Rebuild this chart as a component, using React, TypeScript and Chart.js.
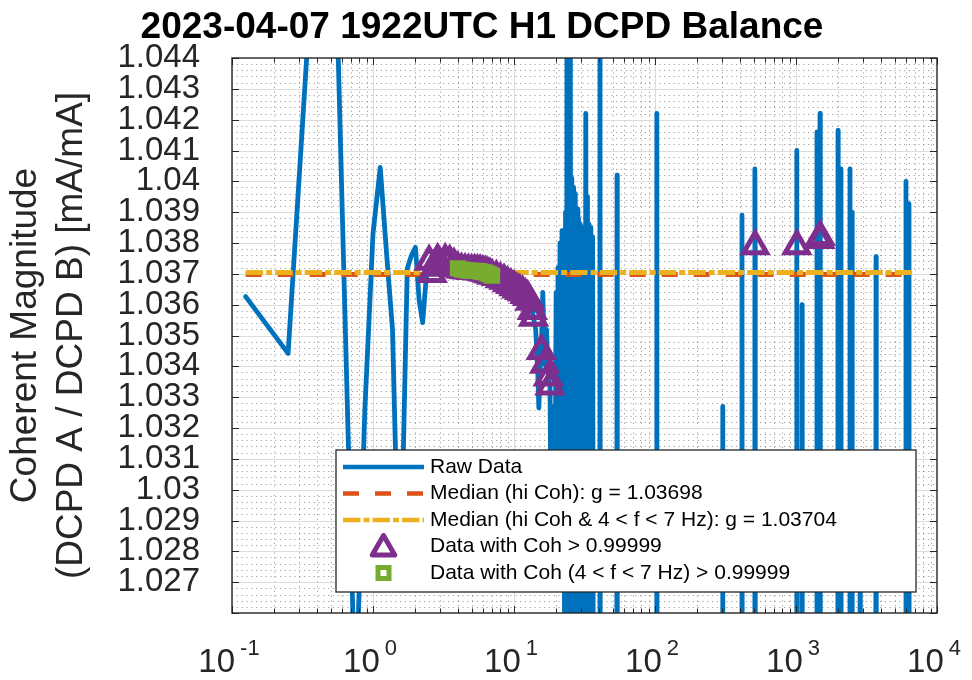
import React, { useEffect, useRef } from 'react';
import { Chart, registerables } from 'chart.js';

Chart.register(...registerables);

const FONT = "'Liberation Sans', Arial, Helvetica, sans-serif";
const BLUE = '#0072BD';
const ORANGE = '#D95319';
const YELLOW = '#EDB120';
const PURPLE = '#7E2F8E';
const GREEN = '#77AC30';
const AXIS = '#262626';

const TITLE = '2023-04-07 1922UTC H1 DCPD Balance';
const Y_TITLE = ['Coherent Magnitude', '(DCPD A / DCPD B) [mA/mA]'];
const X_DECADES = [-1, 0, 1, 2, 3, 4];
const MINOR_DECADES = [-1, 0, 1, 2, 3];
const MINOR_MULTS = [2, 3, 4, 5, 6, 7, 8, 9];
const Y_MIN = 1.026;
const Y_MAX = 1.044;
const Y_STEP = 0.001;
const Y_MINOR = 0.0002;
const X_MIN = 0.1;
const X_MAX = 10000;

// Raw data, low-frequency part (Hz, mA/mA)
const lowFreq = [
  0.125, 0.25, 0.375, 0.5, 0.625, 0.75, 0.875, 1.0, 1.125, 1.25, 1.375, 1.5, 1.625, 1.75, 1.875,
  2.0, 2.125, 2.25, 2.375, 2.5, 2.625, 2.75, 2.875, 3.0, 3.25, 3.5, 3.75, 4.0, 4.25, 4.5, 4.75,
  5.0, 5.25, 5.5, 5.75, 6.0, 6.25, 6.5, 6.75, 7.0, 7.5, 8.0, 8.5, 9.0, 9.5, 10.0, 10.5, 11.0,
  11.5, 12.0, 12.5, 13.0, 13.5, 13.75, 14.25, 14.75, 15.0, 15.375, 15.625, 16.0, 16.5, 17.0,
  17.5, 18.0,
];
const lowVal = [
  1.03626, 1.03442, 1.04725, 1.0536, 1.03659, 1.02287, 1.03256, 1.0383, 1.04045, 1.03762, 1.0352,
  1.02819, 1.0303, 1.03717, 1.0376, 1.03786, 1.03614, 1.03542, 1.03678, 1.0374, 1.037, 1.0372,
  1.03745, 1.0373, 1.03745, 1.0374, 1.0373, 1.03718, 1.03714, 1.03712, 1.03711, 1.0371, 1.0371,
  1.03709, 1.03708, 1.03706, 1.03704, 1.03701, 1.03698, 1.03694, 1.0369, 1.03683, 1.03678,
  1.0367, 1.03664, 1.03657, 1.0365, 1.03645, 1.0364, 1.03632, 1.03625, 1.0361, 1.0358, 1.03558,
  1.0352, 1.0338, 1.03265, 1.034, 1.0345, 1.0364, 1.03406, 1.0352, 1.03364, 1.03335,
];

// Raw data, dense noisy band (18 - 37 Hz)
const bandFreq = [
  18.3, 18.6, 18.9, 19.2, 19.5, 19.9, 20.2, 20.5, 20.8, 21.2, 21.5, 21.9, 22.2, 22.6, 22.9, 23.2,
  23.5, 23.8, 24.1, 24.4, 24.7, 25.0, 25.4, 25.7, 26.1, 26.5, 26.9, 27.2, 27.6, 28.0, 28.4, 28.7,
  29.1, 29.6, 30.0, 30.4, 30.9, 31.4, 31.8, 32.3, 32.7, 33.2, 33.7, 34.1, 34.6, 35.1, 35.6, 36.1,
  36.6,
];
const bandVal = [
  1.029, 1.0327, 1.0285, 1.0318, 1.0282, 1.0364, 1.0283, 1.0372, 1.0281, 1.038, 1.028, 1.0384,
  1.0278, 1.0384, 1.02, 1.039, 1.02, 1.052, 1.02, 1.052, 1.02, 1.052, 1.02, 1.0401, 1.02, 1.0398,
  1.02, 1.0396, 1.02, 1.0391, 1.02, 1.0388, 1.02, 1.0386, 1.02, 1.0384, 1.02, 1.0385, 1.02,
  1.0422, 1.02, 1.0395, 1.02, 1.0386, 1.02, 1.0385, 1.02, 1.0382, 1.02,
];

// Raw data, high-frequency part (mostly off-scale low, with isolated spikes)
const highFreq = [
  40.5, 40.7, 40.9, 53.6, 53.8, 54.0, 102.6, 103, 103.4, 301, 302, 303, 412.5, 414, 415.5, 510,
  511, 512.5, 514, 1008, 1011, 1013, 1016, 1099, 1103, 1107, 1404, 1409, 1414, 1470, 1476, 1480,
  1484, 1490, 1980, 1986, 1992, 2078, 2085, 2092, 2407, 2415, 2423, 2488, 2496, 2504, 2840, 2850,
  2860, 3680, 3694, 3708, 6005, 6026, 6047, 6307, 6329, 6351, 7000,
];
const highVal = [
  1.02, 1.052, 1.02, 1.02, 1.0402, 1.02, 1.02, 1.0422, 1.02, 1.02, 1.0327, 1.02, 1.02, 1.0389,
  1.02, 1.02, 1.0404, 1.0379, 1.02, 1.02, 1.041, 1.0379, 1.02, 1.02, 1.036, 1.02, 1.02, 1.0416,
  1.02, 1.02, 1.0381, 1.0422, 1.0382, 1.02, 1.02, 1.04165, 1.02, 1.02, 1.0404, 1.02, 1.02, 1.0404,
  1.02, 1.02, 1.039, 1.02, 1.02, 1.029, 1.02, 1.02, 1.03756, 1.02, 1.02, 1.04, 1.02, 1.02, 1.03928,
  1.02, 1.02,
];

// Data with Coh > 0.99999
const triFreq = [
  2.5, 2.625, 2.75, 2.875, 3.0, 3.25, 3.5, 3.75, 4.0, 4.25, 4.5, 4.75, 5.0, 5.25, 5.5, 5.75, 6.0,
  6.25, 6.5, 6.75, 7.0, 7.5, 8.0, 8.5, 9.0, 9.5, 10.0, 10.5, 11.0, 11.5, 12.0, 12.5, 13.0, 13.5,
  13.75, 15.625, 16.5, 17.5, 18.0, 512.5, 1013, 1476, 1484,
];
const triVal = [
  1.0374, 1.037, 1.0372, 1.03745, 1.0373, 1.03745, 1.0374, 1.0373, 1.03718, 1.03714, 1.03712,
  1.03711, 1.0371, 1.0371, 1.03709, 1.03708, 1.03706, 1.03704, 1.03701, 1.03698, 1.03694, 1.0369,
  1.03683, 1.03678, 1.0367, 1.03664, 1.03657, 1.0365, 1.03645, 1.0364, 1.03632, 1.03625, 1.0361,
  1.0358, 1.03558, 1.0345, 1.03406, 1.03364, 1.03335, 1.0379, 1.0379, 1.0381, 1.0382,
];

// Data with Coh (4 < f < 7 Hz) > 0.99999
const sqFreq = [4.0, 4.25, 4.5, 4.75, 5.0, 5.25, 5.5, 5.75, 6.0, 6.25, 6.5, 6.75, 7.0];
const sqVal = [
  1.03718, 1.03714, 1.03712, 1.03711, 1.0371, 1.0371, 1.03709, 1.03708, 1.03706, 1.03704, 1.03701,
  1.03698, 1.03694,
];

const MEDIAN_HI_COH = 1.03698;
const MEDIAN_BAND = 1.03704;
const MEDIAN_SPAN = [0.125, 7000];

const LEGEND_LABELS = [
  'Raw Data',
  'Median (hi Coh): g = 1.03698',
  'Median (hi Coh & 4 < f < 7 Hz): g = 1.03704',
  'Data with Coh > 0.99999',
  'Data with Coh (4 < f < 7 Hz) > 0.99999',
];

const toPts = (fs: number[], vs: number[]) => fs.map((f, i) => ({ x: f, y: vs[i] }));

const ORANGE_DASH = [16, 16];
const YELLOW_DASH = [17.5, 3, 6, 3];

function drawTriangle(ctx: any, x: number, y: number, r: number) {
  ctx.beginPath();
  ctx.moveTo(x, y - r);
  ctx.lineTo(x + Math.sin((2 * Math.PI) / 3) * r, y - Math.cos((2 * Math.PI) / 3) * r);
  ctx.lineTo(x + Math.sin((4 * Math.PI) / 3) * r, y - Math.cos((4 * Math.PI) / 3) * r);
  ctx.closePath();
  ctx.stroke();
}

const decoPlugin = {
  id: 'deco',
  beforeDatasetsDraw(chart: any) {
    const { ctx, chartArea: a, scales } = chart;
    const xs = scales.x;
    const ys = scales.y;
    ctx.save();
    ctx.beginPath();
    ctx.rect(a.left, a.top, a.right - a.left, a.bottom - a.top);
    ctx.clip();
    ctx.lineWidth = 1;
    // minor dotted grid
    ctx.strokeStyle = 'rgba(50,50,50,0.45)';
    ctx.setLineDash([1.2, 3.6]);
    const nMinor = Math.round((Y_MAX - Y_MIN) / Y_MINOR);
    for (let i = 1; i < nMinor; i++) {
      if (i % 5 === 0) continue;
      const py = Math.round(ys.getPixelForValue(Y_MIN + i * Y_MINOR)) + 0.5;
      ctx.beginPath();
      ctx.moveTo(a.left, py);
      ctx.lineTo(a.right, py);
      ctx.stroke();
    }
    for (const d of MINOR_DECADES) {
      for (const k of MINOR_MULTS) {
        const px = Math.round(xs.getPixelForValue(k * Math.pow(10, d))) + 0.5;
        ctx.beginPath();
        ctx.moveTo(px, a.top);
        ctx.lineTo(px, a.bottom);
        ctx.stroke();
      }
    }
    // major solid grid
    ctx.setLineDash([]);
    ctx.strokeStyle = '#DCDCDC';
    const nMajor = Math.round((Y_MAX - Y_MIN) / Y_STEP);
    for (let i = 1; i < nMajor; i++) {
      const py = Math.round(ys.getPixelForValue(Y_MIN + i * Y_STEP)) + 0.5;
      ctx.beginPath();
      ctx.moveTo(a.left, py);
      ctx.lineTo(a.right, py);
      ctx.stroke();
    }
    for (const d of X_DECADES) {
      const px = Math.round(xs.getPixelForValue(Math.pow(10, d))) + 0.5;
      ctx.beginPath();
      ctx.moveTo(px, a.top);
      ctx.lineTo(px, a.bottom);
      ctx.stroke();
    }
    ctx.restore();
  },
  afterDatasetsDraw(chart: any) {
    const { ctx, chartArea: a, scales } = chart;
    const xs = scales.x;
    const ys = scales.y;
    ctx.save();
    // ticks
    ctx.strokeStyle = AXIS;
    ctx.lineWidth = 1;
    ctx.setLineDash([]);
    const nMajor = Math.round((Y_MAX - Y_MIN) / Y_STEP);
    for (let i = 0; i <= nMajor; i++) {
      const py = Math.round(ys.getPixelForValue(Y_MIN + i * Y_STEP)) + 0.5;
      ctx.beginPath();
      ctx.moveTo(a.left, py);
      ctx.lineTo(a.left + 7, py);
      ctx.moveTo(a.right, py);
      ctx.lineTo(a.right - 7, py);
      ctx.stroke();
    }
    for (const d of X_DECADES) {
      const px = Math.round(xs.getPixelForValue(Math.pow(10, d))) + 0.5;
      ctx.beginPath();
      ctx.moveTo(px, a.bottom);
      ctx.lineTo(px, a.bottom - 7);
      ctx.moveTo(px, a.top);
      ctx.lineTo(px, a.top + 7);
      ctx.stroke();
    }
    for (const d of MINOR_DECADES) {
      for (const k of MINOR_MULTS) {
        const px = Math.round(xs.getPixelForValue(k * Math.pow(10, d))) + 0.5;
        ctx.beginPath();
        ctx.moveTo(px, a.bottom);
        ctx.lineTo(px, a.bottom - 4.5);
        ctx.moveTo(px, a.top);
        ctx.lineTo(px, a.top + 4.5);
        ctx.stroke();
      }
    }
    // box
    ctx.lineWidth = 1.4;
    ctx.strokeRect(a.left, a.top, a.right - a.left, a.bottom - a.top);

    // x tick labels 10^n
    ctx.fillStyle = AXIS;
    ctx.textBaseline = 'alphabetic';
    ctx.textAlign = 'left';
    for (const d of X_DECADES) {
      const px = xs.getPixelForValue(Math.pow(10, d)) - 3;
      const exp = String(d);
      ctx.font = `33px ${FONT}`;
      const wb = ctx.measureText('10').width;
      ctx.font = `22px ${FONT}`;
      const we = ctx.measureText(exp).width;
      const gap = 5;
      const start = px - (wb + gap + we) / 2;
      ctx.font = `33px ${FONT}`;
      ctx.fillText('10', start, 672);
      ctx.font = `22px ${FONT}`;
      ctx.fillText(exp, start + wb + gap, 655);
    }

    // legend
    const lw = 580;
    const lh = 142;
    const left = a.right - 21 - lw;
    const top = a.bottom - 21 - lh;
    ctx.fillStyle = '#FFFFFF';
    ctx.fillRect(left, top, lw, lh);
    ctx.strokeStyle = AXIS;
    ctx.lineWidth = 1.3;
    ctx.strokeRect(left, top, lw, lh);
    const rows = [17, 43.5, 70, 96.5, 123].map((r) => top + r);
    const x0 = left + 7;
    const x1 = left + 88;
    const mx = left + 47.5;
    ctx.lineCap = 'butt';
    ctx.lineWidth = 4.5;
    ctx.strokeStyle = BLUE;
    ctx.setLineDash([]);
    ctx.beginPath();
    ctx.moveTo(x0, rows[0]);
    ctx.lineTo(x1, rows[0]);
    ctx.stroke();
    ctx.strokeStyle = ORANGE;
    ctx.setLineDash(ORANGE_DASH);
    ctx.beginPath();
    ctx.moveTo(x0, rows[1]);
    ctx.lineTo(x1, rows[1]);
    ctx.stroke();
    ctx.strokeStyle = YELLOW;
    ctx.setLineDash(YELLOW_DASH);
    ctx.beginPath();
    ctx.moveTo(x0, rows[2]);
    ctx.lineTo(x1, rows[2]);
    ctx.stroke();
    ctx.setLineDash([]);
    ctx.strokeStyle = PURPLE;
    ctx.lineWidth = 5;
    ctx.lineJoin = 'round';
    drawTriangle(ctx, mx, rows[3] + 2, 13);
    ctx.lineJoin = 'miter';
    ctx.strokeStyle = GREEN;
    ctx.lineWidth = 5;
    ctx.strokeRect(mx - 5.5, rows[4] - 5.5, 11, 11);
    ctx.fillStyle = '#000000';
    ctx.font = `21px ${FONT}`;
    ctx.textBaseline = 'middle';
    ctx.textAlign = 'left';
    LEGEND_LABELS.forEach((t, i) => ctx.fillText(t, left + 94, rows[i]));

    // title
    ctx.font = `bold 37px ${FONT}`;
    ctx.textAlign = 'center';
    ctx.textBaseline = 'alphabetic';
    ctx.fillText(TITLE, 482, 38);
    ctx.restore();
  },
};

export default function App() {
  const ref = useRef<HTMLCanvasElement>(null);
  useEffect(() => {
    const rawData = [
      ...toPts(lowFreq, lowVal),
      ...toPts(bandFreq, bandVal),
      ...toPts(highFreq, highVal),
    ];
    const chart = new Chart(ref.current as HTMLCanvasElement, {
      type: 'line',
      data: {
        datasets: [
          {
            label: LEGEND_LABELS[4],
            data: toPts(sqFreq, sqVal),
            showLine: false,
            pointStyle: 'rect',
            pointRadius: 7.8,
            pointBorderWidth: 5,
            pointBorderColor: GREEN,
            pointBackgroundColor: 'rgba(0,0,0,0)',
            borderColor: GREEN,
            order: 0,
          },
          {
            label: LEGEND_LABELS[3],
            data: toPts(triFreq, triVal),
            showLine: false,
            pointStyle: 'triangle',
            pointRadius: 13.3,
            pointBorderWidth: 5,
            pointBorderColor: PURPLE,
            pointBackgroundColor: 'rgba(0,0,0,0)',
            borderColor: PURPLE,
            order: 1,
          },
          {
            label: LEGEND_LABELS[2],
            data: MEDIAN_SPAN.map((f) => ({ x: f, y: MEDIAN_BAND })),
            borderColor: YELLOW,
            borderWidth: 5,
            borderDash: YELLOW_DASH,
            pointRadius: 0,
            order: 2,
          },
          {
            label: LEGEND_LABELS[1],
            data: MEDIAN_SPAN.map((f) => ({ x: f, y: MEDIAN_HI_COH })),
            borderColor: ORANGE,
            borderWidth: 5,
            borderDash: ORANGE_DASH,
            pointRadius: 0,
            order: 3,
          },
          {
            label: LEGEND_LABELS[0],
            data: rawData,
            borderColor: BLUE,
            borderWidth: 4.8,
            borderJoinStyle: 'round',
            borderCapStyle: 'round',
            pointRadius: 0,
            clip: 0,
            order: 4,
          },
        ],
      },
      options: {
        animation: false,
        responsive: false,
        maintainAspectRatio: false,
        events: [],
        layout: { padding: { top: 58, right: 35, left: 0, bottom: 0 } },
        elements: { line: { tension: 0 } },
        plugins: {
          legend: { display: false },
          tooltip: { enabled: false },
          title: { display: false },
        },
        scales: {
          x: {
            type: 'logarithmic',
            min: X_MIN,
            max: X_MAX,
            grid: { display: false, drawTicks: false },
            border: { display: false },
            ticks: { display: false },
            afterFit: (s: any) => {
              s.height = 67;
            },
          },
          y: {
            type: 'linear',
            min: Y_MIN,
            max: Y_MAX,
            grid: { display: false, drawTicks: false },
            border: { display: false },
            ticks: {
              stepSize: Y_STEP,
              autoSkip: false,
              padding: 32,
              color: AXIS,
              font: { size: 33, family: FONT },
              callback: (v: any) => {
                const n = Number(v);
                if (Math.abs(n - Y_MIN) < 1e-7) return '';
                return String(parseFloat(n.toFixed(3)));
              },
            },
            title: {
              display: true,
              text: Y_TITLE,
              color: AXIS,
              font: { size: 37, family: FONT, lineHeight: 1.243 },
              padding: { top: 3, bottom: 0 },
            },
            afterFit: (s: any) => {
              s.width = 232;
            },
          },
        },
      },
      plugins: [decoPlugin],
    } as any);
    return () => chart.destroy();
  }, []);
  return (
    <div style={{ position: 'fixed', left: 0, top: 0, width: 972, height: 680, background: '#fff' }}>
      <canvas ref={ref} width={972} height={680} style={{ display: 'block' }} />
    </div>
  );
}
